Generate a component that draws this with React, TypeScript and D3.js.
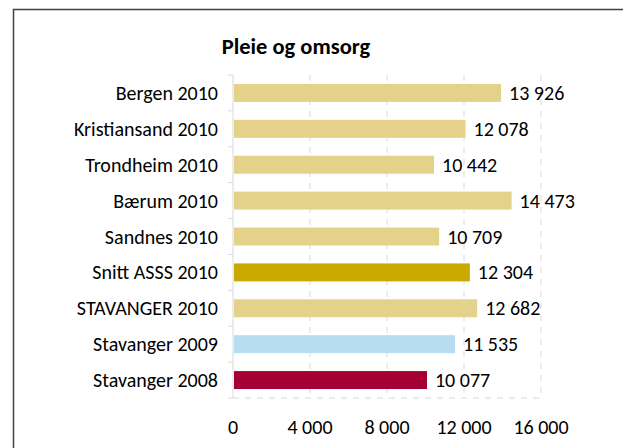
import React, { useEffect, useRef } from "react";
import * as d3 from "d3";

const categories = [
  "Bergen 2010",
  "Kristiansand 2010",
  "Trondheim 2010",
  "Bærum 2010",
  "Sandnes 2010",
  "Snitt ASSS 2010",
  "STAVANGER 2010",
  "Stavanger 2009",
  "Stavanger 2008",
];
const values = [13926, 12078, 10442, 14473, 10709, 12304, 12682, 11535, 10077];
const barColors = [
  "#e4d18a",
  "#e4d18a",
  "#e4d18a",
  "#e4d18a",
  "#e4d18a",
  "#c9a800",
  "#e4d18a",
  "#b7ddf2",
  "#a50034",
];
const xTicks = [0, 4000, 8000, 12000, 16000];
const title = "Pleie og omsorg";

export default function App() {
  const svgRef = useRef<SVGSVGElement>(null);
  const width = 623;
  const height = 448;
  const margin = { top: 75, left: 233, right: 82, bottom: 50 };
  const font = "Carlito, 'Open Sans', 'Liberation Sans', sans-serif";

  useEffect(() => {
    const svg = d3.select(svgRef.current);
    svg.selectAll("*").remove();

    const x = d3.scaleLinear().domain([0, 16000]).range([margin.left, width - margin.right]);
    const y = d3
      .scaleBand()
      .domain(categories)
      .range([margin.top, height - margin.bottom])
      .paddingInner(0.5)
      .paddingOuter(0.25);
    const step = y.step();
    const bottom = height - margin.bottom;

    // chart frame
    svg
      .append("path")
      .attr("d", `M13.5,${height} L13.5,9.5 L${width},9.5`)
      .attr("fill", "none")
      .attr("stroke", "#404040")
      .attr("stroke-width", 1.5);

    // title
    svg
      .append("text")
      .attr("x", 296)
      .attr("y", 54)
      .attr("text-anchor", "middle")
      .attr("font-family", font)
      .attr("font-weight", "bold")
      .attr("font-size", 22.5)
      .text(title);

    // gridlines
    svg
      .append("g")
      .selectAll("line")
      .data(xTicks.slice(1))
      .enter()
      .append("line")
      .attr("x1", (d) => x(d))
      .attr("x2", (d) => x(d))
      .attr("y1", margin.top)
      .attr("y2", bottom)
      .attr("stroke", "#d9d9d9")
      .attr("stroke-dasharray", "6,6");

    svg
      .append("line")
      .attr("x1", margin.left)
      .attr("x2", x(16000))
      .attr("y1", bottom)
      .attr("y2", bottom)
      .attr("stroke", "#d9d9d9")
      .attr("stroke-dasharray", "6,6");

    // y axis
    const yAxis = svg.append("g");
    yAxis
      .append("line")
      .attr("x1", margin.left)
      .attr("x2", margin.left)
      .attr("y1", margin.top)
      .attr("y2", bottom)
      .attr("stroke", "#d9d9d9");
    yAxis
      .selectAll(".tick")
      .data(d3.range(categories.length + 1))
      .enter()
      .append("line")
      .attr("x1", margin.left - 5)
      .attr("x2", margin.left)
      .attr("y1", (i) => margin.top + i * step)
      .attr("y2", (i) => margin.top + i * step)
      .attr("stroke", "#d9d9d9");
    yAxis
      .selectAll("text")
      .data(categories)
      .enter()
      .append("text")
      .attr("x", margin.left - 15)
      .attr("y", (d) => (y(d) as number) + y.bandwidth() / 2)
      .attr("dy", "0.35em")
      .attr("text-anchor", "end")
      .attr("font-family", font)
      .attr("font-size", 20)
      .attr("fill", "#000")
      .text((d) => d);

    // x tick labels
    svg
      .append("g")
      .selectAll("text")
      .data(xTicks)
      .enter()
      .append("text")
      .attr("x", (d) => x(d))
      .attr("y", bottom + 29)
      .attr("dy", "0.35em")
      .attr("text-anchor", "middle")
      .attr("font-family", font)
      .attr("font-size", 20)
      .text((d) => d3.format(",")(d).replace(/,/g, " "));

    // bars
    svg
      .append("g")
      .selectAll("rect")
      .data(values)
      .enter()
      .append("rect")
      .attr("x", margin.left + 1)
      .attr("y", (d, i) => y(categories[i]) as number)
      .attr("width", (d) => x(d) - margin.left - 1)
      .attr("height", y.bandwidth())
      .attr("fill", (d, i) => barColors[i]);

    // value labels
    svg
      .append("g")
      .selectAll("text")
      .data(values)
      .enter()
      .append("text")
      .attr("x", (d) => x(d) + 8)
      .attr("y", (d, i) => (y(categories[i]) as number) + y.bandwidth() / 2)
      .attr("dy", "0.35em")
      .attr("font-family", font)
      .attr("font-size", 20)
      .text((d) => d3.format(",")(d).replace(/,/g, " "));
  }, []);

  return (
    <svg
      ref={svgRef}
      width={width}
      height={height}
      style={{ position: "absolute", left: 0, top: 0, background: "#fff" }}
    />
  );
}
